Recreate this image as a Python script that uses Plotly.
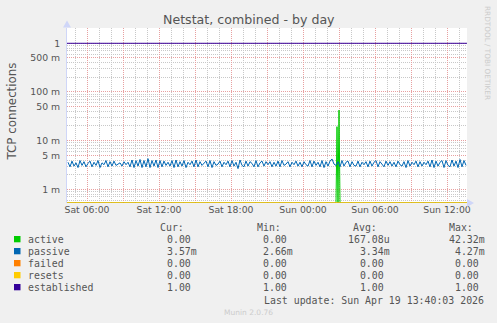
import plotly.graph_objects as go
import pandas as pd

# ---------------- data ----------------
x_start = "2026-04-18 04:20"
x_end = "2026-04-19 13:40"

# passive connections (milli-units), 10-minute samples from Sat 04:25
passive_m = [
    3.6, 2.9, 3.8, 3.0, 3.5, 2.8, 3.9, 3.1, 3.7, 2.9, 3.4, 3.8, 2.9, 3.6, 3.1, 3.9, 2.8, 3.5, 3.2, 3.9,
    2.9, 3.7, 3.0, 3.8, 3.1, 3.3, 3.5, 3.0, 3.7, 3.2, 3.6, 2.9, 4.0, 2.8, 3.9, 3.0, 4.1, 2.8, 3.9, 2.9,
    4.27, 2.8, 3.9, 3.0, 4.0, 2.8, 3.9, 2.9, 3.8, 3.1, 3.6, 3.0, 3.9, 2.8, 4.0, 2.9, 3.7, 3.0, 3.9, 2.8,
    3.6, 3.2, 3.8, 2.9, 4.0, 2.9, 3.7, 3.1, 3.5, 3.8, 2.9, 3.9, 2.8, 3.7, 3.1, 3.3, 3.8, 2.9, 3.6, 3.2,
    3.8, 2.9, 3.9, 3.0, 3.6, 2.66, 4.0, 3.1, 2.9, 3.8, 3.0, 3.7, 3.4, 2.9, 3.9, 2.9, 3.5, 3.8, 3.0, 3.7,
    3.2, 3.7, 2.9, 3.6, 3.0, 3.8, 2.9, 3.9, 3.1, 3.3, 3.7, 2.9, 3.6, 3.2, 3.8, 3.0, 3.6, 2.9, 3.7, 3.2,
    3.0, 3.9, 2.9, 3.8, 3.1, 3.6, 2.9, 3.9, 2.8, 3.7, 3.0, 3.8, 4.2, 3.3, 3.1, 3.7, 2.9, 3.9, 3.0, 3.6,
    3.8, 2.9, 3.7, 3.1, 3.0, 3.8, 2.9, 3.6, 3.2, 3.7, 2.9, 3.8, 3.0, 3.6, 3.9, 2.9, 3.7, 3.2, 2.9, 3.8,
    3.1, 3.7, 3.0, 3.6, 2.9, 3.8, 3.2, 3.0, 3.7, 2.8, 3.9, 3.0, 3.6, 3.2, 3.8, 2.9, 3.7, 3.0, 3.6, 3.2,
    3.8, 2.9, 4.0, 2.8, 3.8, 3.0, 3.6, 3.9, 2.8, 3.9, 3.1, 2.9, 4.0, 3.0, 3.8, 2.8, 4.1, 2.9, 3.9, 3.1,
]
passive_t0 = "2026-04-18 04:25"

active_times = ["2026-04-18 04:20", "2026-04-19 02:45", "2026-04-19 02:50", "2026-04-19 02:55",
                "2026-04-19 03:00", "2026-04-19 03:05", "2026-04-19 13:40"]
active_vals = [0, 0, 0.0194, 0, 0.04232, 0, 0]

flat_times = [x_start, x_end]
failed_vals = [0, 0]
resets_vals = [0, 0]
established_vals = [1, 1]

NB = "\u00a0"
series_names = ["active", "passive", "failed", "resets", "established"]
series_colors = ["#00cc00", "#0066b3", "#ff8000", "#ffcc00", "#330099"]
cur_vals = ["0.00", "3.57m", "0.00", "0.00", "1.00"]
min_vals = ["0.00", "2.66m", "0.00", "0.00", "1.00"]
avg_vals = ["167.08u", NB * 2 + "3.34m", NB * 2 + "0.00", NB * 2 + "0.00", NB * 2 + "1.00"]
max_vals = ["42.32m", NB + "4.27m", NB + "0.00", NB + "0.00", NB + "1.00"]

y_tick_vals = [1, 0.5, 0.1, 0.05, 0.01, 0.005, 0.001]
y_tick_text = ["1", "500 m", "100 m", "50 m", "10 m", "5 m", "1 m"]
y_minor_vals = [m * 10.0 ** e for e in (-1, -2, -3, -4) for m in (2, 3, 4, 6, 7, 8, 9)]

x_tick_vals = ["2026-04-18 06:00", "2026-04-18 09:00", "2026-04-18 12:00", "2026-04-18 15:00",
               "2026-04-18 18:00", "2026-04-18 21:00", "2026-04-19 00:00", "2026-04-19 03:00",
               "2026-04-19 06:00", "2026-04-19 09:00", "2026-04-19 12:00"]
x_tick_text = ["Sat 06:00", "", "Sat 12:00", "", "Sat 18:00", "", "Sun 00:00", "", "Sun 06:00", "", "Sun 12:00"]

# ---------------- layout geometry ----------------
W, H = 497, 323
ML, MR, MT, MB = 67, 30, 28, 120
PW, PH = W - ML - MR, H - MT - MB
y_range = [-3.281, 0.314]
floor = 10 ** y_range[0]


def px(xp):
    return (xp - ML) / PW


def py(yp):
    return (H - MB - yp) / PH


def disp(vals):
    return [v if v > 0 else floor for v in vals]


passive_times = pd.date_range(passive_t0, periods=len(passive_m), freq="10min")
passive_vals = [v / 1000.0 for v in passive_m]

fig = go.Figure()
fig.add_trace(go.Scatter(x=active_times, y=disp(active_vals), mode="lines",
                         line=dict(color=series_colors[0], width=1), name="active"))
fig.add_trace(go.Scatter(x=passive_times, y=disp(passive_vals), mode="lines",
                         line=dict(color=series_colors[1], width=1), name="passive"))
fig.add_trace(go.Scatter(x=flat_times, y=disp(failed_vals), mode="lines",
                         line=dict(color=series_colors[2], width=1), name="failed"))
fig.add_trace(go.Scatter(x=flat_times, y=disp(resets_vals), mode="lines",
                         line=dict(color=series_colors[3], width=1.2), name="resets"))
fig.add_trace(go.Scatter(x=flat_times, y=disp(established_vals), mode="lines",
                         line=dict(color=series_colors[4], width=1), name="established"))

MAJ = "rgb(232,160,160)"
MIN = "rgb(200,200,200)"
TXT = "#555555"
AX = "#cfd6f8"

fig.update_layout(
    width=W, height=H, margin=dict(l=ML, r=MR, t=MT, b=MB, pad=0),
    paper_bgcolor="#f0f0f0", plot_bgcolor="#ffffff", showlegend=False,
    font=dict(family="DejaVu Sans", size=9.3, color=TXT),
    xaxis=dict(type="date", range=[x_start, x_end], tickmode="array", tickvals=x_tick_vals,
               ticktext=x_tick_text, showgrid=True, gridcolor=MAJ, griddash="1px,1px", gridwidth=1,
               ticks="", zeroline=False, showline=False, tickfont=dict(size=9.3, color=TXT),
               minor=dict(dtick=3600000, tick0="2026-04-18 00:00", showgrid=True, gridcolor=MIN,
                          griddash="1px,1px", gridwidth=1)),
    yaxis=dict(type="log", range=y_range, tickmode="array", tickvals=y_tick_vals, ticktext=y_tick_text,
               showgrid=True, gridcolor=MAJ, griddash="1px,1px", gridwidth=1, ticks="",
               zeroline=False, showline=True, linecolor=AX, linewidth=1,
               tickfont=dict(size=9.3, color=TXT), ticklabelstandoff=4,
               minor=dict(tickmode="array", tickvals=y_minor_vals, showgrid=True, gridcolor=MIN,
                          griddash="1px,1px", gridwidth=1)),
)

# arrows
fig.add_shape(type="path", xref="paper", yref="paper",
              path=f"M {px(63)} {py(27.5)} L {px(67)} {py(20.5)} L {px(71)} {py(27.5)} Z",
              fillcolor=AX, line=dict(width=0))
fig.add_shape(type="path", xref="paper", yref="paper",
              path=f"M {px(467)} {py(199)} L {px(474)} {py(203)} L {px(467)} {py(207)} Z",
              fillcolor=AX, line=dict(width=0))

ann = []
ann.append(dict(text="Netstat, combined - by day", x=px(248.5), y=py(19.3), xref="paper", yref="paper",
                showarrow=False, xanchor="center", yanchor="middle",
                font=dict(family="DejaVu Sans", size=12.6, color=TXT)))
ann.append(dict(text="TCP connections", x=px(11.7), y=py(111.7), xref="paper", yref="paper",
                showarrow=False, xanchor="center", yanchor="middle", textangle=-90,
                font=dict(family="DejaVu Sans", size=11.8, color=TXT)))
ann.append(dict(text="RRDTOOL / TOBI OETIKER", x=px(488), y=py(53), xref="paper", yref="paper",
                showarrow=False, xanchor="center", yanchor="middle", textangle=90,
                font=dict(family="DejaVu Sans", size=7.3, color="#cccccc")))

MONO = "DejaVu Sans Mono"
FS = 9.9


def txt(s, x, y, color=TXT, size=FS, family=MONO):
    ann.append(dict(text=s, x=px(x), y=py(y), xref="paper", yref="paper", showarrow=False,
                    xanchor="left", yanchor="middle", font=dict(family=family, size=size, color=color)))


hdr_y = 227.7
txt("Cur:", 158, hdr_y)
txt("Min:", 254.7, hdr_y)
txt("Avg:", 350.7, hdr_y)
txt("Max:", 446.7, hdr_y)
for i, name in enumerate(series_names):
    yy = 239.3 + 12 * i
    fig.add_shape(type="rect", xref="paper", yref="paper", x0=px(14), x1=px(20.5),
                  y0=py(yy + 3), y1=py(yy - 3.3), fillcolor=series_colors[i], line=dict(width=0))
    txt(name, 26.3, yy)
    txt(cur_vals[i], 164.7, yy)
    txt(min_vals[i], 261, yy)
    txt(avg_vals[i], 345.7, yy)
    txt(max_vals[i], 446.7, yy)
txt("Last update: Sun Apr 19 13:40:03 2026", 262.3, 300)
ann.append(dict(text="Munin 2.0.76", x=px(248), y=py(312.5), xref="paper", yref="paper",
                showarrow=False, xanchor="center", yanchor="middle",
                font=dict(family="DejaVu Sans", size=7.5, color="#cccccc")))
fig.update_layout(annotations=ann)

fig.write_html("out.html")
